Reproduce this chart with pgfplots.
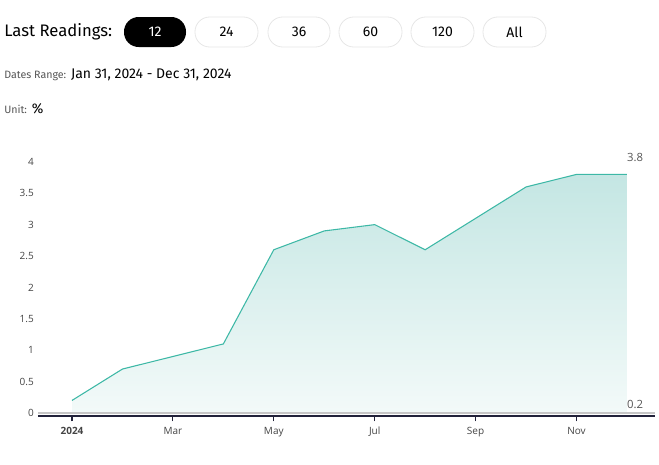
\documentclass[border=0pt]{standalone}
\usepackage{pgfplots}
\pgfplotsset{compat=1.18}
\usepackage{fontspec}
\setmainfont{Fira Sans}
\newfontfamily\tickfont{Open Sans}
\definecolor{teal1}{HTML}{3DB8A6}
\definecolor{filltop}{HTML}{C4E6E3}
\definecolor{fillbot}{HTML}{F3FAF9}
\definecolor{axdark}{HTML}{22223A}
\definecolor{ticktext}{HTML}{444444}
\definecolor{lbl}{HTML}{555555}
\definecolor{btnborder}{HTML}{E6E6E6}
\pgfplotstableread{
x y
0 0.2
1 0.7
2 0.9
3 1.1
4 2.6
5 2.9
6 3.0
7 2.6
8 3.1
9 3.6
10 3.8
11 3.8
}\datatable
\begin{document}
\begin{tikzpicture}
\path[use as bounding box] (0pt,0pt) rectangle (494.25pt,-348pt);
\begin{scope}[x=0.75pt,y=-0.75pt]
\node[anchor=west, inner sep=0pt, font=\fontsize{12.5}{14}\selectfont] at (4,32) {Last Readings:};
\fill[black, rounded corners=11pt] (124,17) rectangle (186,47);
\node[white, font=\fontsize{10.5}{12}\selectfont] at (155,32) {12};
\foreach \a/\b/\t in {195/258/24, 268/330/36, 339/402/60, 411/474/120, 483/546/All}{
  \draw[btnborder, line width=0.6pt, rounded corners=11pt] (\a,17) rectangle (\b,47);
  \node[font=\fontsize{10.5}{12}\selectfont] at ({(\a+\b)/2},32) {\t};
}
\node[anchor=base west, inner sep=0pt] at (4,78) {{\color{lbl}\fontsize{8}{9}\selectfont Dates Range:} {\fontsize{10.5}{12}\selectfont Jan 31, 2024 - Dec 31, 2024}};
\node[anchor=base west, inner sep=0pt] at (4,113) {{\color{lbl}\fontsize{8}{9}\selectfont Unit:} {\fontsize{10.5}{12}\selectfont \%}};
\end{scope}
\begin{axis}[
  at={(28.5pt,-312pt)}, anchor=south west,
  scale only axis, width=462.75pt, height=204.75pt,
  xmin=-0.674, xmax=11.556, ymin=-0.048, ymax=4.3,
  clip=false,
  axis x line*=bottom, axis y line*=left,
  x axis line style={axdark, line width=1.4pt, -},
  y axis line style={draw=none},
  ytick style={draw=none},
  xtick style={axdark, line width=0.8pt},
  tick align=outside, major tick length=4pt,
  xtick={0,2,4,6,8,10},
  xticklabels={\textbf{2024},Mar,May,Jul,Sep,Nov},
  ytick={0,0.5,1,1.5,2,2.5,3,3.5,4},
  yticklabels={0,0.5,1,1.5,2,2.5,3,3.5,4},
  /pgf/number format/assume math mode=true,
  yticklabel style={anchor=east, inner sep=0pt, xshift=1pt, font=\tickfont\fontsize{7.5}{9}\selectfont, text=ticktext},
  xticklabel style={inner sep=0pt, yshift=-4pt, font=\tickfont\fontsize{7.5}{9}\selectfont, text=ticktext},
]
\addplot[draw=none, top color=filltop, bottom color=fillbot] table[x=x,y=y]{\datatable} \closedcycle;
\addplot[gray!45, line width=0.8pt] coordinates {(-0.674,0) (11.556,0)};
\addplot[teal1, line width=0.8pt] table[x=x,y=y]{\datatable};
\node[lbl, font=\tickfont\fontsize{8.5}{10}\selectfont] at (axis cs:11.16,4.07) {3.8};
\node[lbl, font=\tickfont\fontsize{8.5}{10}\selectfont] at (axis cs:11.16,0.13) {0.2};
\end{axis}
\end{tikzpicture}
\end{document}
